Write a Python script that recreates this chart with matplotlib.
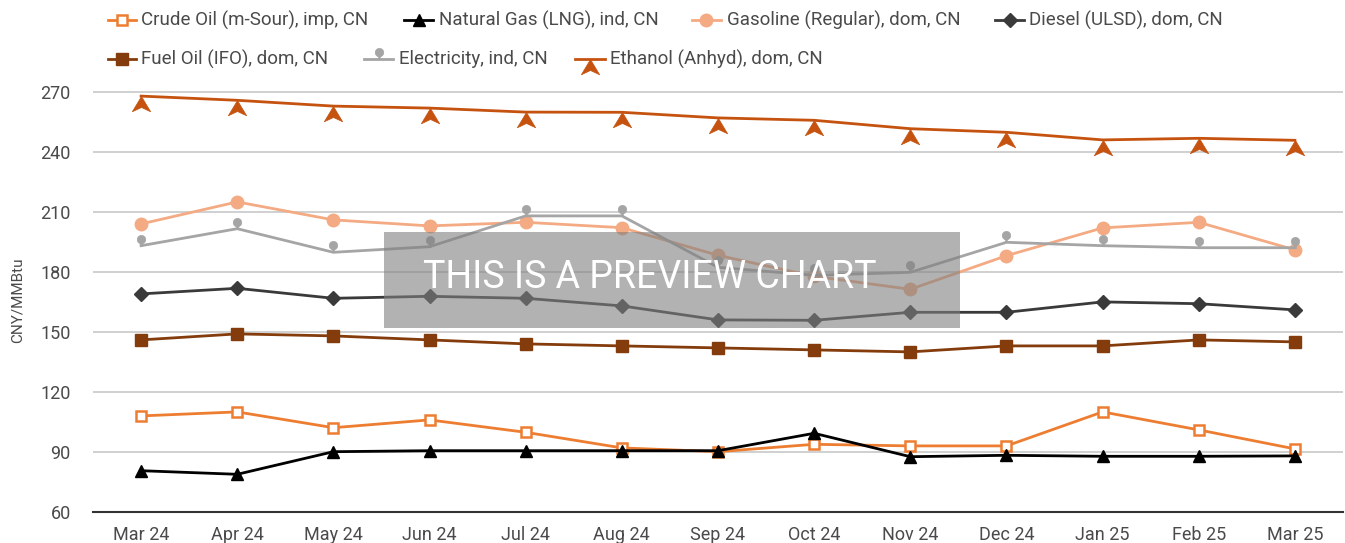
import numpy as np
import matplotlib
matplotlib.use("Agg")
import matplotlib.pyplot as plt
from matplotlib.path import Path
from matplotlib.lines import Line2D
from matplotlib.patches import Rectangle

plt.rcParams['font.family'] = ['Roboto', 'DejaVu Sans']

# data
months = ['Mar 24', 'Apr 24', 'May 24', 'Jun 24', 'Jul 24', 'Aug 24', 'Sep 24',
          'Oct 24', 'Nov 24', 'Dec 24', 'Jan 25', 'Feb 25', 'Mar 25']

crude_oil = [108.2, 110.2, 102.3, 106.2, 100.0, 92.2, 90.3, 94.0, 93.2, 93.2, 110.2, 101.2, 91.7]
natural_gas = [80.8, 79.0, 90.3, 90.8, 90.8, 90.8, 90.8, 99.5, 87.8, 88.5, 88.0, 88.0, 88.2]
gasoline = [204.2, 215.2, 206.2, 203.2, 205.0, 202.3, 188.5, 178.0, 171.5, 188.3, 202.2, 205.0, 191.2]
diesel = [169.2, 172.0, 167.0, 168.0, 167.0, 163.2, 156.2, 156.0, 160.0, 160.0, 165.2, 164.3, 161.2]
fuel_oil = [146.2, 149.2, 148.2, 146.2, 144.2, 143.2, 142.2, 141.2, 140.2, 143.2, 143.2, 146.2, 145.2]
electricity = [193.3, 201.8, 190.0, 192.8, 208.2, 208.2, 182.5, 178.5, 180.0, 195.0, 193.3, 192.3, 192.3]
ethanol = [268.1, 266.0, 263.1, 262.1, 260.1, 260.0, 257.2, 256.0, 251.8, 250.0, 246.2, 247.0, 246.0]

series_names = ['Crude Oil (m-Sour), imp, CN', 'Natural Gas (LNG), ind, CN',
                'Gasoline (Regular), dom, CN', 'Diesel (ULSD), dom, CN',
                'Fuel Oil (IFO), dom, CN', 'Electricity, ind, CN', 'Ethanol (Anhyd), dom, CN']

y_ticks = [60, 90, 120, 150, 180, 210, 240, 270]

# custom markers: pin for electricity, notched arrow for ethanol
pin = Path.make_compound_path(
    Path.circle(center=(0, 0.62), radius=0.38),
    Path([(-0.07, 0.0), (0.07, 0.0), (0.07, 0.4), (-0.07, 0.4), (-0.07, 0.0)],
         [Path.MOVETO, Path.LINETO, Path.LINETO, Path.LINETO, Path.CLOSEPOLY]))
arrow = Path([(0, 0), (0.6, -1.0), (0, -0.72), (-0.6, -1.0), (0, 0)],
             [Path.MOVETO, Path.LINETO, Path.LINETO, Path.LINETO, Path.CLOSEPOLY])

styles = [
    dict(color='#ED7D31', marker='s', ms=7, mfc='white', mec='#ED7D31', mew=1.8),
    dict(color='#000000', marker='^', ms=9, mfc='#000000', mec='#000000'),
    dict(color='#F4AA82', marker='o', ms=9, mfc='#F4AA82', mec='#F4AA82'),
    dict(color='#3A3A3A', marker='D', ms=7.5, mfc='#3A3A3A', mec='#3A3A3A'),
    dict(color='#843C0C', marker='s', ms=9, mfc='#843C0C', mec='#843C0C'),
    dict(color='#A5A5A5', marker=pin, ms=16, mfc='#A5A5A5', mec='#A5A5A5', mew=0.5),
    dict(color='#C5530F', marker=arrow, ms=22, mfc='#C5530F', mec='#C5530F', mew=0.5),
]

W, H = 1345, 543
fig = plt.figure(figsize=(W / 100, H / 100), dpi=100)
ax = fig.add_axes([93 / W, 1 - 512.3 / H, 1250 / W, (512.3 - 72.3) / H])

x = np.arange(len(months))
all_series = [crude_oil, natural_gas, gasoline, diesel, fuel_oil, electricity, ethanol]
for vals, st in zip(all_series, styles):
    ax.plot(x, vals, lw=2.0, **st)

ax.set_xlim(-0.5, len(months) - 0.5)
ax.set_ylim(60, 280)
ax.set_yticks(y_ticks)
ax.set_xticks(x)
ax.set_xticklabels(months)
ax.tick_params(axis='both', length=0, labelsize=13, colors='#4a4a4a')
ax.tick_params(axis='y', pad=16)
ax.tick_params(axis='x', pad=10)
ax.grid(axis='y', color='#C8C8C8', lw=1.2)
ax.set_axisbelow(True)
for s in ['top', 'left', 'right']:
    ax.spines[s].set_visible(False)
ax.spines['bottom'].set_color('#333333')
ax.spines['bottom'].set_linewidth(1.5)
fig.text(18 / W, 1 - 300 / H, 'CNY/MMBtu', rotation=90, ha='center', va='center',
         fontsize=11, color='#4a4a4a')

# legend, laid out by hand in two rows
legend_pos = [(108, 136, 141, 20), (404, 433, 439, 20), (692, 721, 727, 20), (995, 1024, 1029, 20),
              (108, 136, 141, 59), (364, 393, 399, 59), (575, 605, 610, 59)]
for (x0, x1, tx, ty), name, st in zip(legend_pos, series_names, styles):
    fy = 1 - ty / H
    xs = [x0 / W, (x0 + x1) / 2 / W, x1 / W]
    fig.add_artist(Line2D(xs, [fy, fy, fy], transform=fig.transFigure, lw=2.0,
                          markevery=[1], **st))
    fig.text(tx / W, fy, name, ha='left', va='center', fontsize=13.5, color='#4a4a4a')

# preview watermark
ax.add_patch(Rectangle((384 / W, 1 - 328 / H), 576 / W, 96 / H, transform=fig.transFigure,
                       facecolor='#808080', edgecolor='none', alpha=0.6, zorder=10))
fig.text(650 / W, 1 - 277 / H, 'THIS IS A PREVIEW CHART', ha='center', va='center',
         fontsize=27, color='white', zorder=11)

fig.savefig('out.png', dpi=100)
